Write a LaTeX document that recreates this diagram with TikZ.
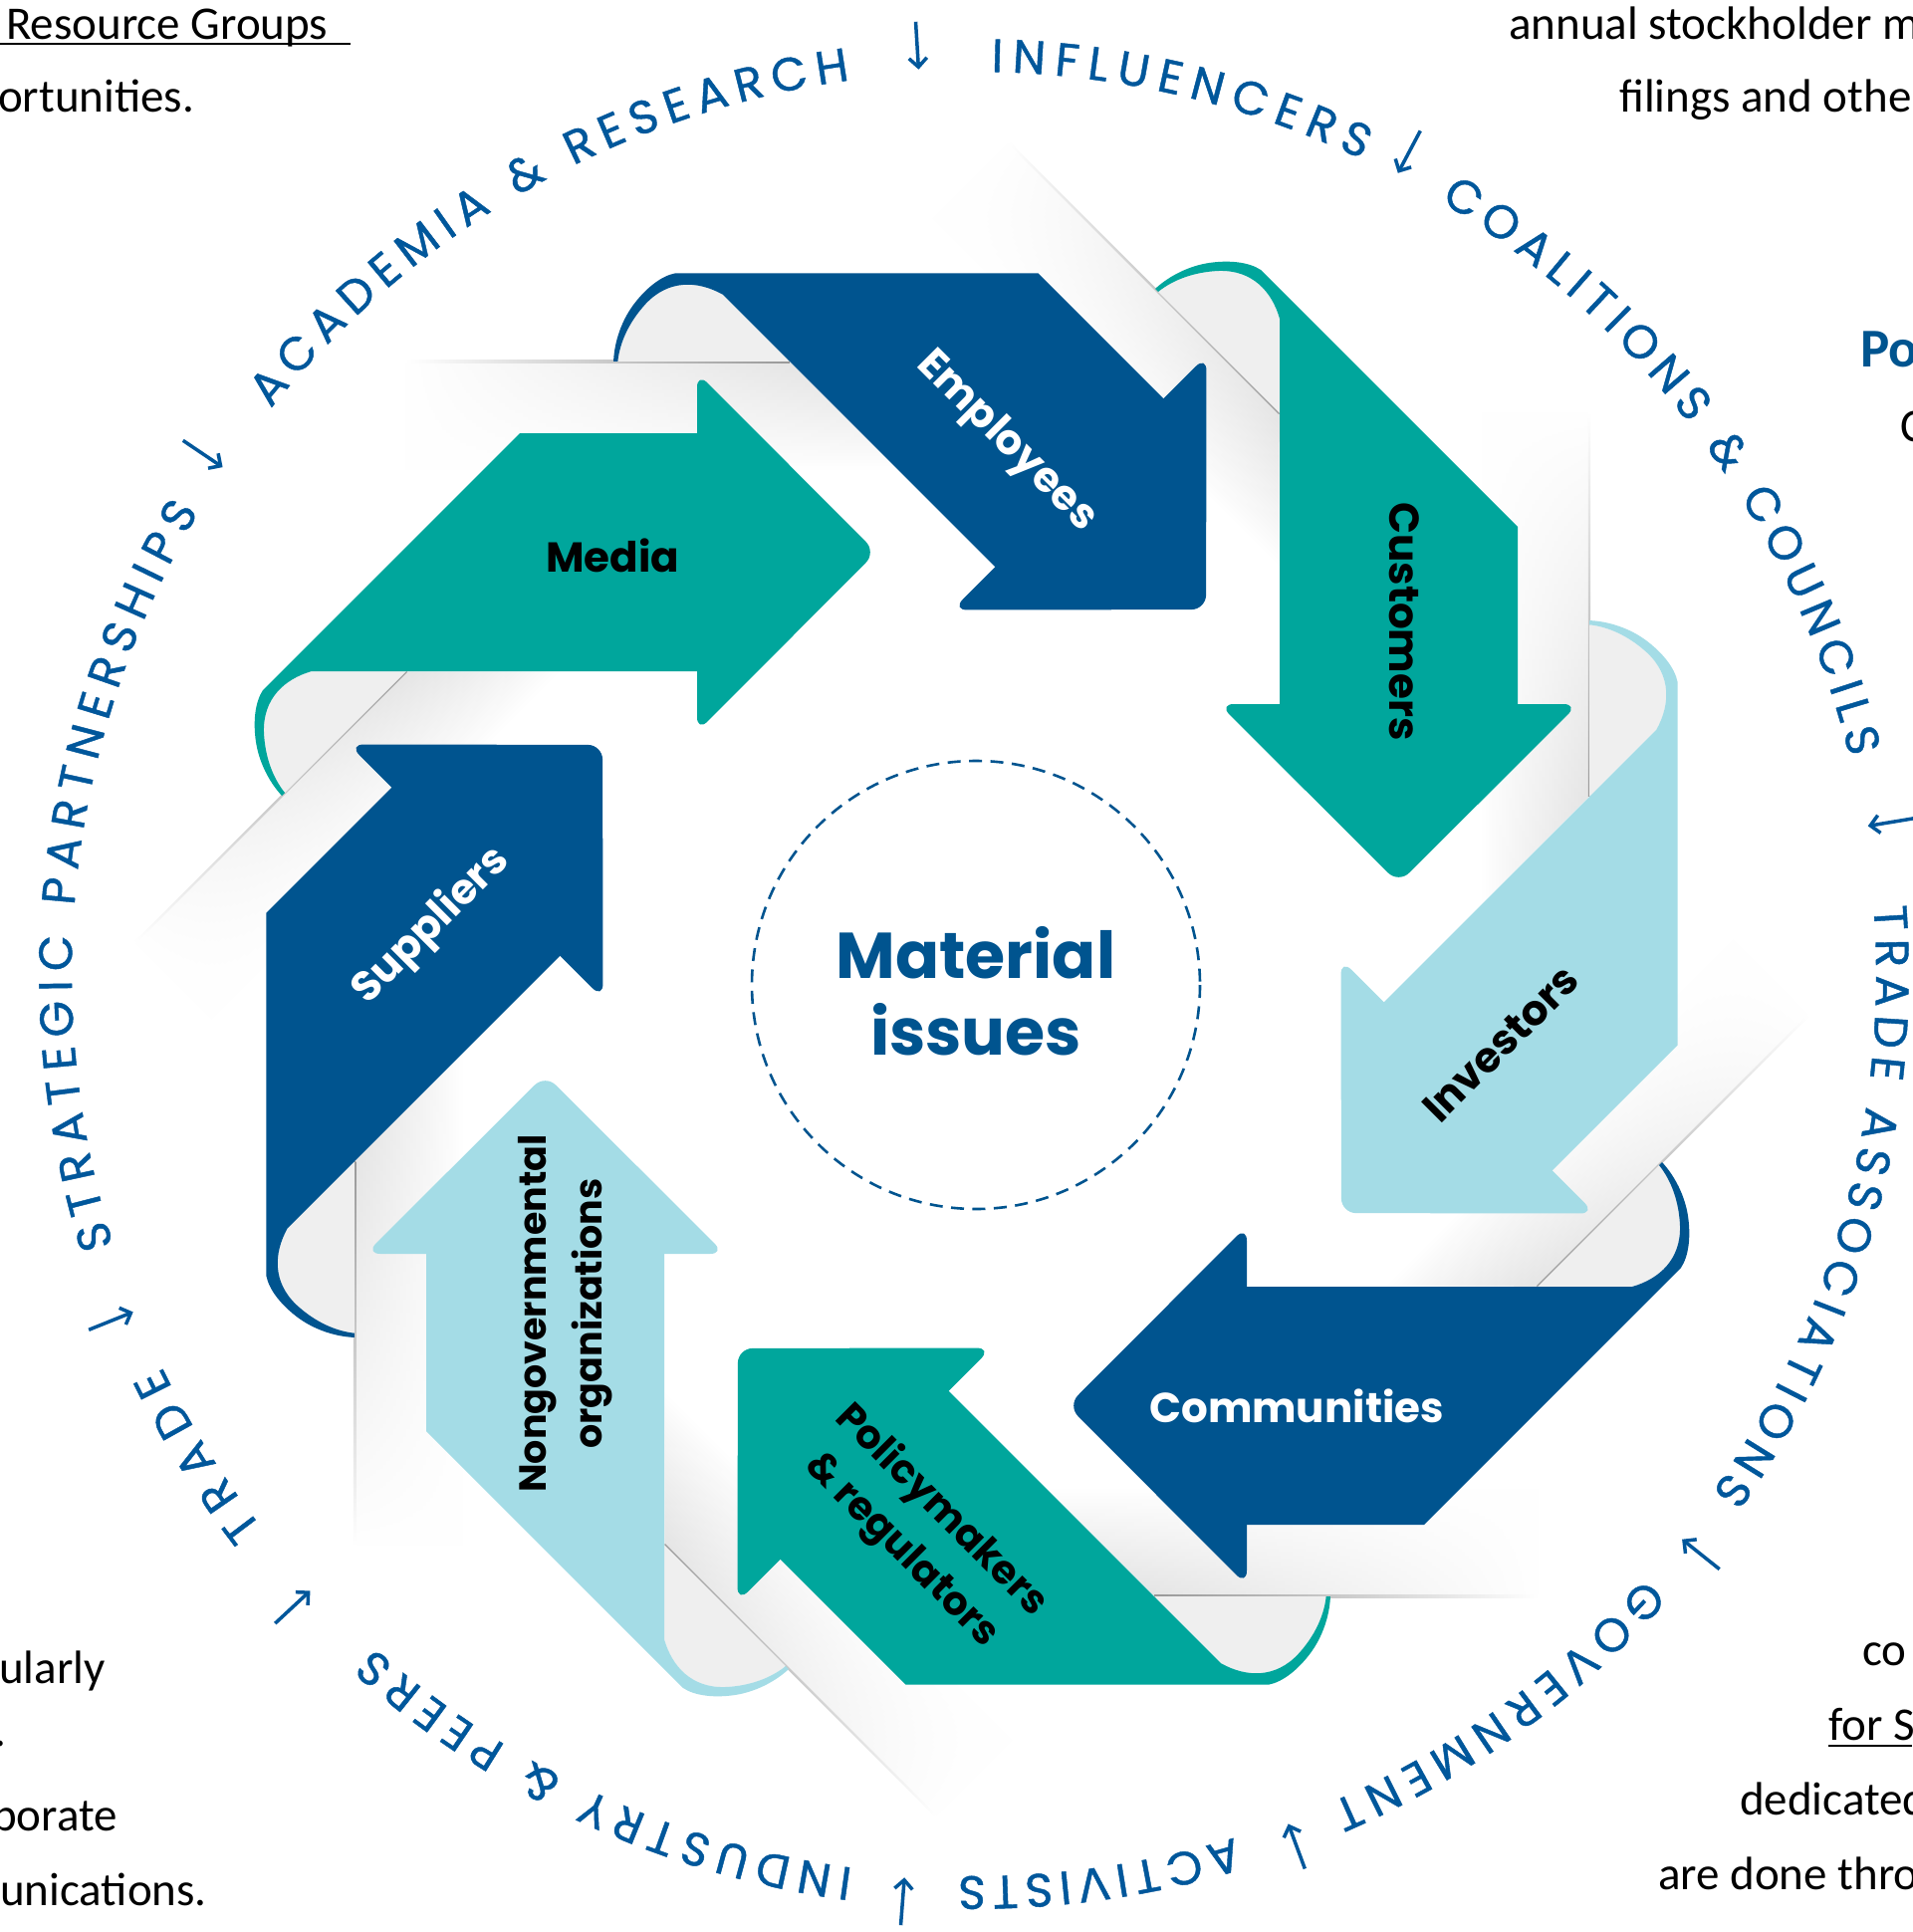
\documentclass[tikz,border=0pt]{standalone}
\usepackage{fontspec}
\setmainfont{Poppins}
\newfontfamily\bodyfont{Carlito}
\newfontfamily\ringfont[FakeBold=0.9]{Poppins}
\usetikzlibrary{decorations.text,arrows.meta,fadings}
\definecolor{dblue}{HTML}{00548F}
\definecolor{ateal}{HTML}{00A69C}
\definecolor{lblue}{HTML}{A4DCE6}
\definecolor{ringblue}{HTML}{00579B}
\definecolor{foldgray}{HTML}{EFEFEF}
\tikzfading[name=fadeend, top color=transparent!0, bottom color=transparent!100]
\tikzset{
  lab/.style={font=\bfseries\fontsize{42}{57}\selectfont, align=center, inner sep=0pt},
  side/.style={font=\bodyfont\fontsize{47}{56}\selectfont, anchor=base west, inner sep=0pt, text=black},
  ringtext/.style={decorate, decoration={text along path, text color=ringblue,
      text align={fit to path}, text={|\ringfont\fontsize{47}{50}\selectfont|#1}}},
  ringarrow/.style={ringblue, line width=3.5pt, -{Straight Barb[length=9pt,width=18pt]}},
}
\begin{document}
\begin{tikzpicture}[x=1pt,y=-1pt]
\useasboundingbox (0,0) rectangle (1920,1940);
\fill[white] (0,0) rectangle (1920,1940);

% shadow bands and fold lines
\foreach \k in {0,...,7}{
  \begin{scope}[transform canvas={rotate around={-45*\k:(976,983)}}]
  \begin{scope}[transform canvas={rotate around={-45:(408,674)}}]
    \shade[left color=black!13, right color=white, path fading=fadeend]
      (408,674) -- (518,564) -- (518,1060) -- (408,1060) -- cycle;
    \shade[top color=black!40, bottom color=white]
      (407,674) rectangle (409.4,1060);
  \end{scope}
  \end{scope}
}

% arrows with curled tails
\foreach \k/\col in {0/ateal,1/dblue,2/ateal,3/lblue,4/dblue,5/ateal,6/lblue,7/dblue}{
  \begin{scope}[transform canvas={rotate around={-45*\k:(976,983)}}]
    \fill[foldgray] (313,674) -- (408,674) -- (286,796)
      .. controls (274,781) and (266,760) .. (265,735)
      .. controls (264,702) and (285,682) .. (313,674) -- cycle;
    \fill[\col, rounded corners=15pt] (700,374) -- (880,554.5) -- (700,735) -- cycle;
    \fill[\col] (522,435) -- (704,435) -- (704,674) -- (313,674)
      .. controls (285,682) and (264,702) .. (265,735)
      .. controls (266,760) and (274,781) .. (286,796)
      -- (283,799)
      .. controls (270,785) and (260,765) .. (257,745)
      .. controls (254,725) and (256,705) .. (264,693) -- cycle;
  \end{scope}
}

% centre
\draw[dblue, line width=2.6pt, dash pattern=on 13pt off 8.5pt] (980,989) circle[radius=225];
\node[font=\bfseries\fontsize{65}{77}\selectfont, text=dblue, align=center, inner sep=0pt] (mat) at (980,995) {Material\\issues};

% arrow labels
\node[lab] (media) at (615,558) {Media};
\node[lab, text=white, rotate=-45] (employees) at (1010,444) {Employees};
\node[lab, rotate=-90] (customers) at (1410,624) {Customers};
\node[lab, rotate=45] (investors) at (1507,1048) {Investors};
\node[lab, text=white] (communities) at (1302,1412) {Communities};
\node[lab, font=\bfseries\fontsize{40}{56}\selectfont, rotate=-45] (policy) at (925,1537) {Policymakers\\\& regulators};
\node[lab, font=\bfseries\fontsize{38}{56}\selectfont, rotate=90] (ngo) at (568,1319) {Nongovernmental\\organizations};
\node[lab, text=white, rotate=45] (suppliers) at (433,930) {Suppliers};

% ring of stakeholder groups
\begin{scope}[y=1pt]
\path[ringtext=INFLUENCERS] (978,-978) ++(88.9:906) arc[start angle=88.9, end angle=64.5, radius=906];
\path[ringtext={COALITIONS {\&} COUNCILS}] (978,-978) ++(58.9:906) arc[start angle=58.9, end angle=13.9, radius=906];
\path[ringtext={TRADE ASSOCIATIONS}] (978,-978) ++(4.3:906) arc[start angle=4.3, end angle=-35.1, radius=906];
\path[ringtext=GOVERNMENT] (978,-978) ++(-42:906) arc[start angle=-42, end angle=-66.7, radius=906];
\path[ringtext=ACTIVISTS] (978,-978) ++(-73.2:906) arc[start angle=-73.2, end angle=-91, radius=906];
\path[ringtext={INDUSTRY {\&} PEERS}] (978,-978) ++(-97.7:906) arc[start angle=-97.7, end angle=-131.7, radius=906];
\path[ringtext=TRADE] (978,-978) ++(-142.1:906) arc[start angle=-142.1, end angle=-154.2, radius=906];
\path[ringtext={STRATEGIC PARTNERSHIPS}] (978,-978) ++(197.5:906) arc[start angle=197.5, end angle=149.2, radius=906];
\path[ringtext={ACADEMIA {\&} RESEARCH}] (978,-978) ++(141.2:906) arc[start angle=141.2, end angle=97.9, radius=906];
\foreach \a in {93.5,62.1,9.4,-38.6,-69.7,-94.4,-137.1,-158.1,146.0}
  \draw[ringarrow] (978,-978) ++(\a:958) -- ++(\a+180:48);
\end{scope}

% cropped page text around the figure
\node[side] (t1) at (6,40) {Resource Groups};
\draw[black, line width=2pt] (0,44.5) -- (352,44.5);
\node[side] (t2) at (-2,113) {ortunities.};
\node[side] (t3) at (1515,40) {annual stockholder m};
\node[side] (t4) at (1626,113) {filings and othe};
\node[side, font=\bodyfont\bfseries\fontsize{55}{60}\selectfont, text=dblue] (t5) at (1868,368) {Po};
\node[side] (t6) at (1908,443) {C};
\node[side] (t7) at (1870,1672) {co};
\node[side] (t8) at (1836,1747) {for S};
\draw[black, line width=2pt] (1836,1753) -- (1920,1753);
\node[side] (t9) at (1747,1822) {dedicated};
\node[side] (t10) at (1665,1897) {are done thro};
\node[side] (t11) at (-1,1690) {ularly};
\node[side] (t12) at (-6,1753) {.};
\node[side] (t13) at (-8,1838) {porate};
\node[side] (t14) at (0,1913) {unications.};
\end{tikzpicture}
\end{document}
